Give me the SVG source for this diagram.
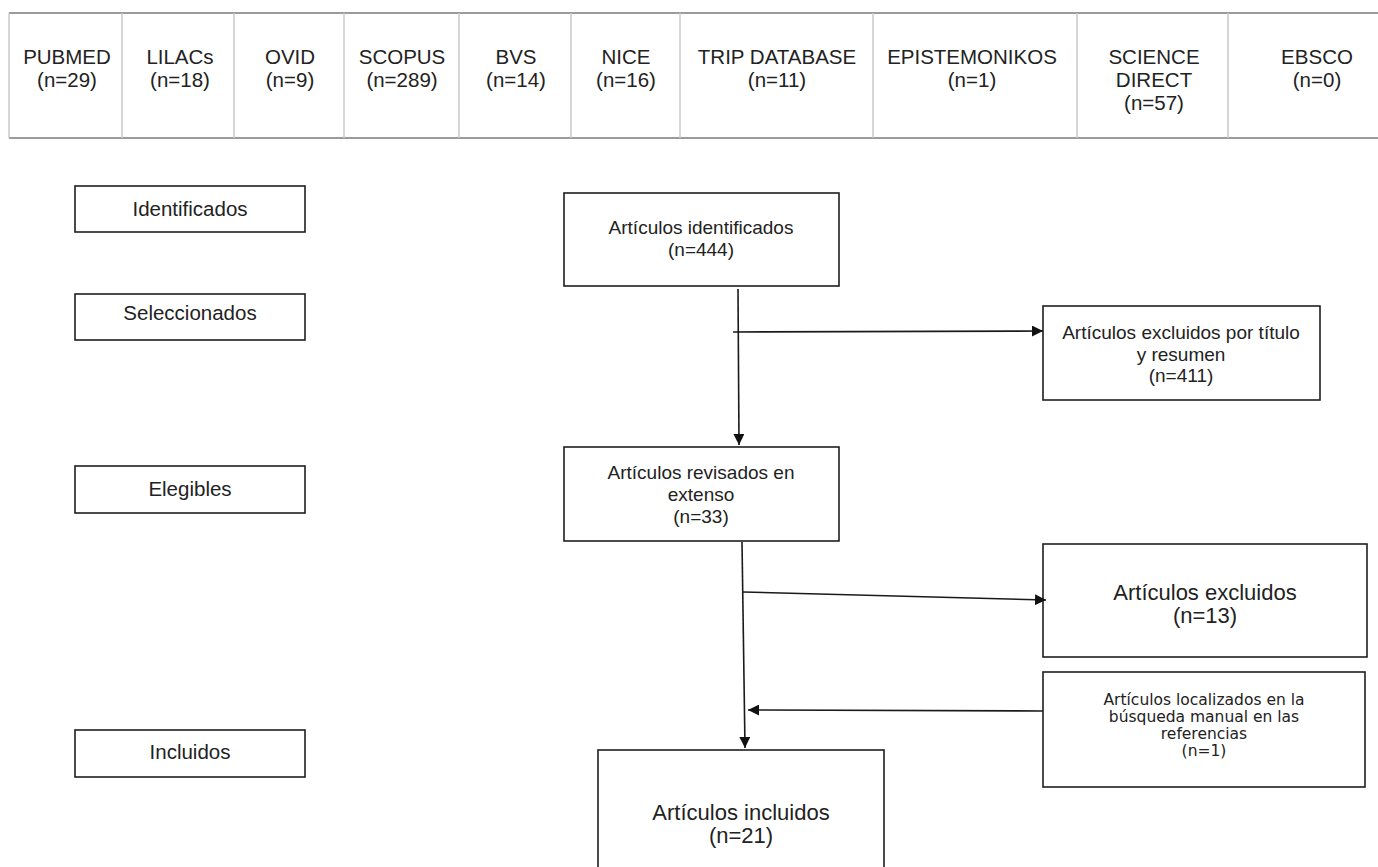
<svg xmlns="http://www.w3.org/2000/svg" width="1378" height="867" viewBox="0 0 1378 867">
<style>
  .bx{fill:#fff;stroke:#1e1e1e;stroke-width:1.6}
  .t{font-family:"Liberation Sans",Arial,sans-serif;fill:#222;text-anchor:middle}
  .top{font-size:20.5px}
  .lbl{font-size:20.5px}
  .m{font-size:19px}
  .l{font-size:22px}
  .s{font-family:"DejaVu Sans",sans-serif;font-size:15.5px;fill:#222;text-anchor:middle}
  .cn{stroke:#1a1a1a;stroke-width:1.6;fill:none}
  .cell{stroke:#c8c8c8;stroke-width:1.5}
</style>
<defs>
  <marker id="ah" viewBox="0 0 10 10" refX="10" refY="5" markerWidth="11" markerHeight="11" markerUnits="userSpaceOnUse" orient="auto">
    <path d="M0,0 L10,5 L0,10 z" fill="#111"/>
  </marker>
</defs>
<rect width="1378" height="867" fill="#fff"/>

<g id="sources">
  <line x1="9" y1="13" x2="1378" y2="13" stroke="#7a7a7a" stroke-width="1.5"/>
  <line x1="9" y1="138" x2="1378" y2="138" stroke="#7a7a7a" stroke-width="1.5"/>
  <line class="cell" x1="9" y1="13" x2="9" y2="138" stroke="#8a8a8a"/>
  <line class="cell" x1="122" y1="13" x2="122" y2="138"/>
  <line class="cell" x1="234" y1="13" x2="234" y2="138"/>
  <line class="cell" x1="344" y1="13" x2="344" y2="138"/>
  <line class="cell" x1="459" y1="13" x2="459" y2="138"/>
  <line class="cell" x1="571" y1="13" x2="571" y2="138"/>
  <line class="cell" x1="680" y1="13" x2="680" y2="138"/>
  <line class="cell" x1="873" y1="13" x2="873" y2="138"/>
  <line class="cell" x1="1077" y1="13" x2="1077" y2="138"/>
  <line class="cell" x1="1228" y1="13" x2="1228" y2="138"/>
  <text class="t top" x="67" y="64">PUBMED<tspan x="67" dy="23">(n=29)</tspan></text>
  <text class="t top" x="180" y="64">LILACs<tspan x="180" dy="23">(n=18)</tspan></text>
  <text class="t top" x="290" y="64">OVID<tspan x="290" dy="23">(n=9)</tspan></text>
  <text class="t top" x="402" y="64">SCOPUS<tspan x="402" dy="23">(n=289)</tspan></text>
  <text class="t top" x="516" y="64">BVS<tspan x="516" dy="23">(n=14)</tspan></text>
  <text class="t top" x="626" y="64">NICE<tspan x="626" dy="23">(n=16)</tspan></text>
  <text class="t top" x="777" y="64">TRIP DATABASE<tspan x="777" dy="23">(n=11)</tspan></text>
  <text class="t top" x="972" y="64">EPISTEMONIKOS<tspan x="972" dy="23">(n=1)</tspan></text>
  <text class="t top" x="1154" y="64">SCIENCE<tspan x="1154" dy="23">DIRECT</tspan><tspan x="1154" dy="23">(n=57)</tspan></text>
  <text class="t top" x="1317" y="64">EBSCO<tspan x="1317" dy="23">(n=0)</tspan></text>
</g>

<g id="stage-identificados">
  <rect class="bx" x="75" y="186" width="230" height="46"/>
  <text class="t lbl" x="190" y="216">Identificados</text>
</g>
<g id="stage-seleccionados">
  <rect class="bx" x="75" y="294" width="230" height="46"/>
  <text class="t lbl" x="190" y="320">Seleccionados</text>
</g>
<g id="stage-elegibles">
  <rect class="bx" x="75" y="466" width="230" height="47"/>
  <text class="t lbl" x="190" y="496">Elegibles</text>
</g>
<g id="stage-incluidos">
  <rect class="bx" x="75" y="730" width="230" height="47"/>
  <text class="t lbl" x="190" y="759">Incluidos</text>
</g>

<g id="n-identificados">
  <rect class="bx" x="564" y="193" width="275" height="93"/>
  <text class="t m" x="701" y="234">Artículos identificados<tspan x="701" dy="22">(n=444)</tspan></text>
</g>
<g id="n-excl-titulo">
  <rect class="bx" x="1043" y="306" width="277" height="94"/>
  <text class="t m" x="1181" y="339">Artículos excluidos por título<tspan x="1181" dy="21.5">y resumen</tspan><tspan x="1181" dy="21.5">(n=411)</tspan></text>
</g>
<g id="n-revisados">
  <rect class="bx" x="564" y="447" width="275" height="94"/>
  <text class="t m" x="701" y="479">Artículos revisados en<tspan x="701" dy="22">extenso</tspan><tspan x="701" dy="22">(n=33)</tspan></text>
</g>
<g id="n-excluidos">
  <rect class="bx" x="1043" y="544" width="324" height="113"/>
  <text class="t l" x="1205" y="600">Artículos excluidos<tspan x="1205" dy="23">(n=13)</tspan></text>
</g>
<g id="n-localizados">
  <rect class="bx" x="1043" y="672" width="322" height="115"/>
  <text class="s" x="1204" y="705">Artículos localizados en la<tspan x="1204" dy="17">búsqueda manual en las</tspan><tspan x="1204" dy="17">referencias</tspan><tspan x="1204" dy="17">(n=1)</tspan></text>
</g>
<g id="n-incluidos">
  <rect class="bx" x="598" y="750" width="286" height="125"/>
  <text class="t l" x="741" y="820">Artículos incluidos<tspan x="741" dy="23">(n=21)</tspan></text>
</g>

<g id="connectors">
  <line class="cn" x1="738" y1="289" x2="739" y2="445" marker-end="url(#ah)"/>
  <line class="cn" x1="733" y1="332" x2="1043" y2="331" marker-end="url(#ah)"/>
  <line class="cn" x1="742" y1="542" x2="745" y2="748" marker-end="url(#ah)"/>
  <line class="cn" x1="743" y1="592" x2="1046" y2="600" marker-end="url(#ah)"/>
  <line class="cn" x1="1043" y1="711" x2="748" y2="710" marker-end="url(#ah)"/>
</g>
</svg>
